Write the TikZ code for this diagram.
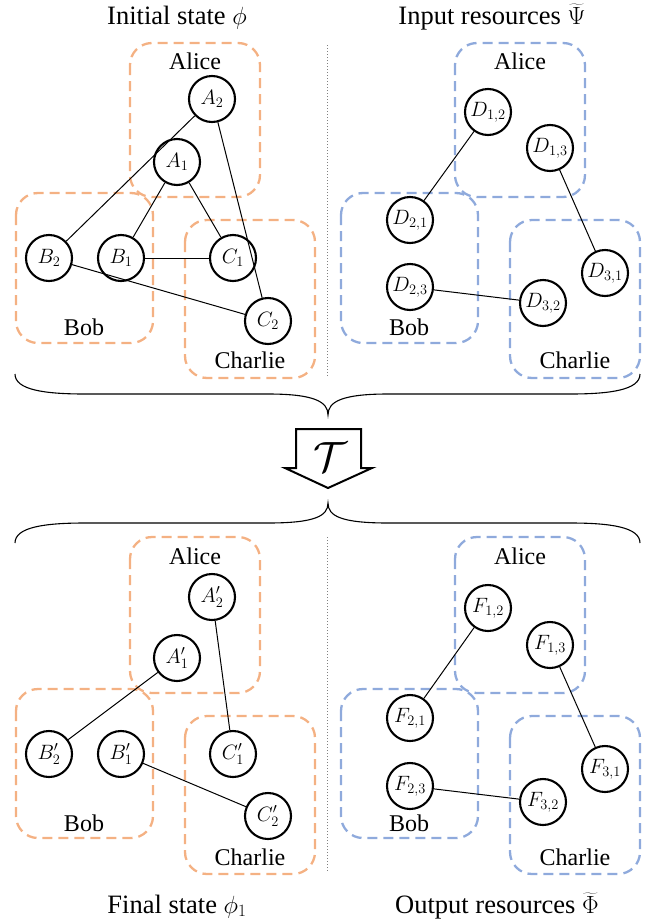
\documentclass[tikz,border=0pt]{standalone}
\usepackage{fontspec}
\setmainfont{Liberation Serif}
\definecolor{borange}{RGB}{244,177,131}
\definecolor{bblue}{RGB}{143,170,220}
\tikzset{
  res/.style={draw, circle, line width=2.1pt, minimum size=46pt, inner sep=0pt, fill=white, font=\fontsize{21}{24}\selectfont},
  link/.style={line width=1pt},
  pbox/.style={dash pattern=on 10pt off 6pt, line width=2.3pt, rounded corners=22pt},
  obox/.style={pbox, draw=borange},
  ubox/.style={pbox, draw=bblue},
  lab/.style={font=\fontsize{24}{28}\selectfont, inner sep=0pt},
  ttl/.style={font=\fontsize{26.5}{30}\selectfont, inner sep=0pt, anchor=base},
  sep/.style={gray, dotted, line width=1pt},
  brace/.style={line width=1.1pt},
}
\begin{document}
\begin{tikzpicture}[x=1pt,y=-1pt]
\useasboundingbox (0,0) rectangle (653,924);
% titles
\node[ttl] (t1) at (177,24) {Initial state $\phi$};
\node[ttl] (t2) at (492,24) {Input resources $\widetilde{\Psi}$};
\node[ttl] (t3) at (177,913) {Final state $\phi_1$};
\node[ttl] (t4) at (497,913) {Output resources $\widetilde{\Phi}$};
% separators
\draw[sep] (327,45) -- (327,376);
\draw[sep] (327,537) -- (327,872);
% ---------- top left ----------
\draw[obox] (130,43) rectangle (260,197);
\draw[obox] (16,193) rectangle (153,343);
\draw[obox] (185,220) rectangle (315,378);
\node[lab] (al1) at (195,61) {Alice};
\node[lab] (bo1) at (84,327) {Bob};
\node[lab] (ch1) at (250,360) {Charlie};
\node[res] (A2) at (212,99) {$A_2$};
\node[res] (A1) at (177,162) {$A_1$};
\node[res] (B2) at (49,258) {$B_2$};
\node[res] (B1) at (121,258) {$B_1$};
\node[res] (C1) at (233,258) {$C_1$};
\node[res] (C2) at (268,321) {$C_2$};
\draw[link] (A2) -- (B2);
\draw[link] (A2) -- (C2);
\draw[link] (A1) -- (B1);
\draw[link] (A1) -- (C1);
\draw[link] (B1) -- (C1);
\draw[link] (B2) -- (C2);
% ---------- top right ----------
\draw[ubox] (455,43) rectangle (585,197);
\draw[ubox] (341,193) rectangle (478,343);
\draw[ubox] (510,220) rectangle (640,378);
\node[lab] (al2) at (520,61) {Alice};
\node[lab] (bo2) at (409,327) {Bob};
\node[lab] (ch2) at (575,360) {Charlie};
\node[res] (D12) at (488,112) {$D_{1,2}$};
\node[res] (D13) at (550,148) {$D_{1,3}$};
\node[res] (D21) at (410,220) {$D_{2,1}$};
\node[res] (D23) at (410,287) {$D_{2,3}$};
\node[res] (D32) at (543,303) {$D_{3,2}$};
\node[res] (D31) at (605,273) {$D_{3,1}$};
\draw[link] (D12) -- (D21);
\draw[link] (D13) -- (D31);
\draw[link] (D23) -- (D32);
% ---------- braces and arrow ----------
\coordinate (b1l) at (15,374);
\coordinate (b1t) at (328,415);
\coordinate (b1r) at (640,374);
\draw[brace] (b1l) .. controls (15,390) and (45,394) .. (85,394) -- (268,394)
  .. controls (315,394) and (328,402) .. (b1t)
  .. controls (328,402) and (341,394) .. (388,394) -- (570,394)
  .. controls (610,394) and (640,390) .. (b1r);
\coordinate (b2l) at (15,543);
\coordinate (b2t) at (328,503);
\coordinate (b2r) at (640,543);
\draw[brace] (b2l) .. controls (15,527) and (45,523) .. (85,523) -- (268,523)
  .. controls (315,523) and (328,516) .. (b2t)
  .. controls (328,516) and (341,523) .. (388,523) -- (570,523)
  .. controls (610,523) and (640,527) .. (b2r);
\draw[line width=2pt, fill=white, line join=miter] (296,429) -- (361,429) -- (361,468) -- (372,468) -- (328,488) -- (285,468) -- (296,468) -- cycle;
\node[font=\fontsize{24}{26}\selectfont, inner sep=0pt, scale=1.7] (T) at (330,457) {$\mathcal{T}$};
% ---------- bottom left ----------
\draw[obox] (130,537) rectangle (260,693);
\draw[obox] (16,689) rectangle (153,838);
\draw[obox] (185,716) rectangle (315,874);
\node[lab] (al3) at (195,556) {Alice};
\node[lab] (bo3) at (84,823) {Bob};
\node[lab] (ch3) at (250,857) {Charlie};
\node[res] (A2p) at (212,597) {$A_2'$};
\node[res] (A1p) at (177,658) {$A_1'$};
\node[res] (B2p) at (49,754) {$B_2'$};
\node[res] (B1p) at (121,754) {$B_1'$};
\node[res] (C1p) at (233,754) {$C_1'$};
\node[res] (C2p) at (268,816) {$C_2'$};
\draw[link] (A1p) -- (B2p);
\draw[link] (A2p) -- (C1p);
\draw[link] (B1p) -- (C2p);
% ---------- bottom right ----------
\draw[ubox] (455,537) rectangle (585,693);
\draw[ubox] (341,689) rectangle (478,838);
\draw[ubox] (510,716) rectangle (640,874);
\node[lab] (al4) at (520,556) {Alice};
\node[lab] (bo4) at (409,823) {Bob};
\node[lab] (ch4) at (575,857) {Charlie};
\node[res] (F12) at (488,608) {$F_{1,2}$};
\node[res] (F13) at (550,645) {$F_{1,3}$};
\node[res] (F21) at (410,718) {$F_{2,1}$};
\node[res] (F23) at (410,786) {$F_{2,3}$};
\node[res] (F32) at (543,802) {$F_{3,2}$};
\node[res] (F31) at (605,769) {$F_{3,1}$};
\draw[link] (F12) -- (F21);
\draw[link] (F13) -- (F31);
\draw[link] (F23) -- (F32);
\end{tikzpicture}
\end{document}
